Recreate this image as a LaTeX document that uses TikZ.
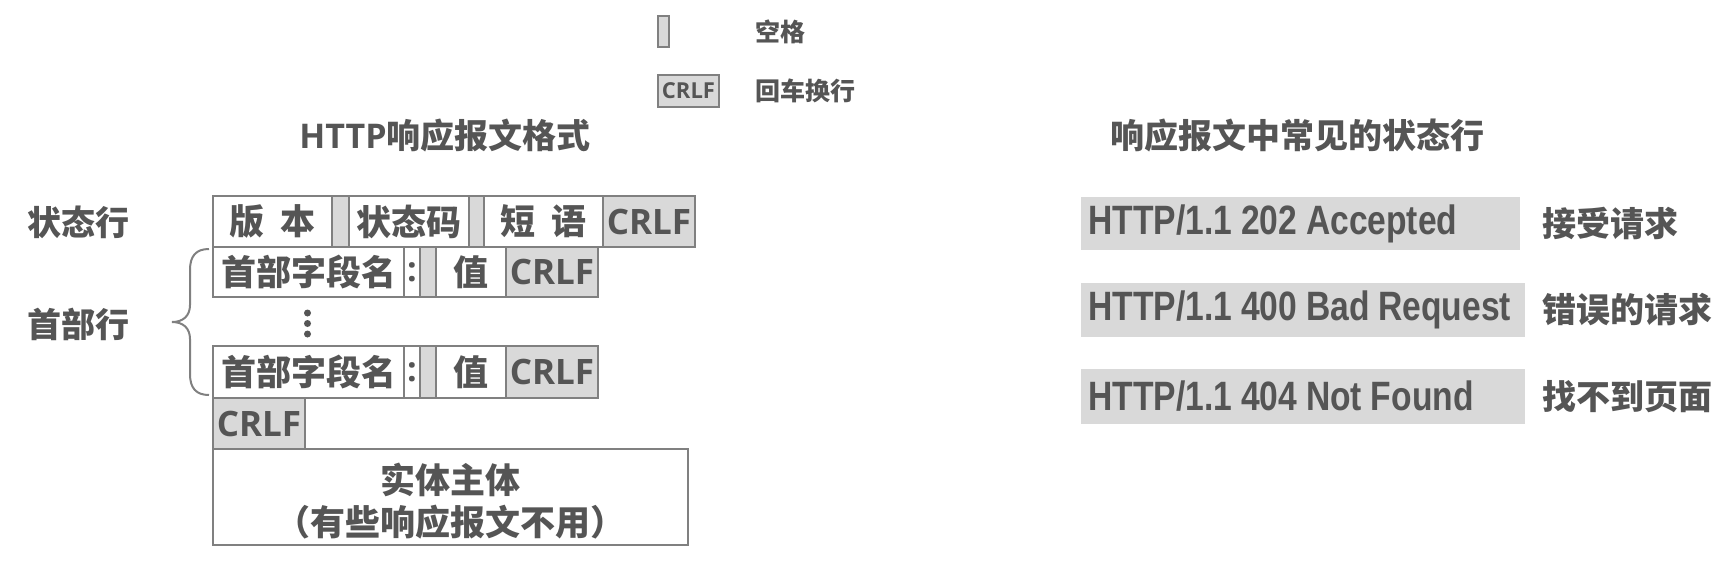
\documentclass[tikz,border=0pt]{standalone}
\usepackage{fontspec}
\newfontfamily\cjk{Noto Sans CJK SC}
\newfontfamily\osb{Open Sans}
\newfontfamily\lsn{Liberation Sans}[FakeStretch=0.82, WordSpace=0.95]
\definecolor{txt}{RGB}{85,85,85}
\definecolor{gfill}{RGB}{217,217,217}
\definecolor{bord}{RGB}{128,128,128}
\begin{document}
\begin{tikzpicture}[x=0.5pt,y=-0.5pt,
  cell/.style={draw=bord, line width=0.8pt, fill=white, inner sep=0pt, text=txt,
     font=\cjk\bfseries\fontsize{17.5}{20}\selectfont},
  gcell/.style={cell, fill=gfill, font=\osb\bfseries\fontsize{17.5}{20}\selectfont},
  lbl/.style={inner sep=0pt, text=txt, font=\cjk\bfseries\fontsize{17}{20}\selectfont},
  small/.style={inner sep=0pt, text=txt, font=\cjk\bfseries\fontsize{12.5}{15}\selectfont},
  rbox/.style={fill=gfill, inner sep=0pt, anchor=west},
  rtext/.style={inner sep=0pt, text=txt, anchor=west,
     font=\lsn\bfseries\fontsize{20.5}{22}\selectfont}
]
\useasboundingbox (0,0) rectangle (1724,563);

% legend
\node[cell, fill=gfill, minimum width=5.5pt, minimum height=15.5pt] (lsp) at (663.5,31.5) {};
\node[cell, fill=gfill, minimum width=30.5pt, minimum height=16pt, font=\osb\bfseries\fontsize{11}{12}\selectfont] (lcr) at (688.5,91) {CRLF};
\node[small, anchor=west] (lspt) at (755,32) {空格};
\node[small, anchor=west] (lcrt) at (755,91) {回车换行};

% titles
\node[lbl] (t1) at (445,136) {{\osb\bfseries HTTP}响应报文格式};
\node[lbl] (t2) at (1297,136) {响应报文中常见的状态行};

% left labels
\node[lbl, anchor=west] (lstat) at (27,222) {状态行};
\node[lbl, anchor=west] (lhead) at (27,324) {首部行};

% status line
\node[cell, minimum width=59.5pt, minimum height=25.5pt] (ver) at (272.5,221.5) {版\hspace{0.45em}本};
\node[cell, fill=gfill, minimum width=8.5pt, minimum height=25.5pt] (s1) at (340.5,221.5) {};
\node[cell, minimum width=60pt, minimum height=25.5pt] (code) at (409,221.5) {状态码};
\node[cell, fill=gfill, minimum width=7.5pt, minimum height=25.5pt] (s2) at (476.5,221.5) {};
\node[cell, minimum width=59.5pt, minimum height=25.5pt] (phr) at (543.5,221.5) {短\hspace{0.45em}语};
\node[gcell, minimum width=46pt, minimum height=25.5pt] (cr0) at (649,221.5) {CRLF};

% header line 1
\node[cell, minimum width=95.5pt, minimum height=25pt] (n1) at (308.5,272) {首部字段名};
\node[cell, minimum width=8pt, minimum height=25pt, font=\osb\bfseries\fontsize{17}{20}\selectfont] (c1) at (412,272) {:};
\node[cell, fill=gfill, minimum width=8pt, minimum height=25pt] (sp1) at (428,272) {};
\node[cell, minimum width=35pt, minimum height=25pt] (v1) at (471,272) {值};
\node[gcell, minimum width=46pt, minimum height=25pt] (cr1) at (552,272) {CRLF};

% dots
\fill[txt] (307.5,313) circle[radius=3.5];
\fill[txt] (307.5,323.5) circle[radius=3.5];
\fill[txt] (307.5,334) circle[radius=3.5];

% header line 2
\node[cell, minimum width=95.5pt, minimum height=26pt] (n2) at (308.5,372) {首部字段名};
\node[cell, minimum width=8pt, minimum height=26pt, font=\osb\bfseries\fontsize{17}{20}\selectfont] (c2) at (412,372) {:};
\node[cell, fill=gfill, minimum width=8pt, minimum height=26pt] (sp2) at (428,372) {};
\node[cell, minimum width=35pt, minimum height=26pt] (v2) at (471,372) {值};
\node[gcell, minimum width=46pt, minimum height=26pt] (cr2) at (552,372) {CRLF};

% blank line
\node[gcell, minimum width=46pt, minimum height=25.5pt] (cr3) at (259,423.5) {CRLF};

% body
\node[cell, minimum width=237.5pt, minimum height=48pt] (body) at (450.5,497) {};
\node[lbl, font=\cjk\bfseries\fontsize{17.5}{21}\selectfont, align=center] (bodyt) at (450.5,501)
  {实体主体\\（有些响应报文不用）};

% brace
\draw[bord, line width=1pt] (209,249) .. controls (196,249) and (190,256) .. (190,270)
  -- (190,305) .. controls (190,316) and (183,322) .. (172,322)
  .. controls (183,322) and (190,328) .. (190,339)
  -- (190,374) .. controls (190,388) and (196,395) .. (209,395);

% right side
\node[rbox, minimum width=219.5pt, minimum height=26.5pt] (r1) at (1081,223.5) {};
\node[rbox, minimum width=222pt, minimum height=27pt] (r2) at (1081,310) {};
\node[rbox, minimum width=222pt, minimum height=27.5pt] (r3) at (1081,396.5) {};
\node[rtext] (r1t) at (1088,223.5) {HTTP/1.1 202 Accepted};
\node[rtext] (r2t) at (1088,310) {HTTP/1.1 400 Bad Request};
\node[rtext] (r3t) at (1088,396.5) {HTTP/1.1 404 Not Found};
\node[lbl, anchor=west] (m1) at (1542,223.5) {接受请求};
\node[lbl, anchor=west] (m2) at (1542,310) {错误的请求};
\node[lbl, anchor=west] (m3) at (1542,396.5) {找不到页面};
\end{tikzpicture}
\end{document}
